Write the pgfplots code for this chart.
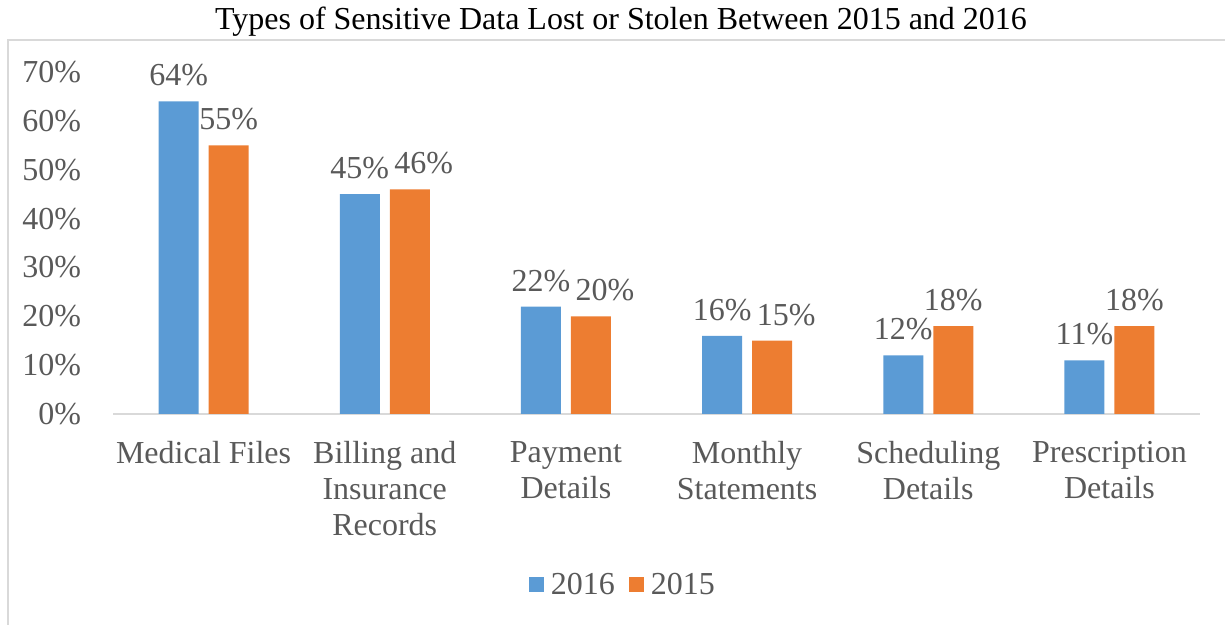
\documentclass[border=0pt]{standalone}
\usepackage{pgfplots}
\pgfplotsset{compat=1.18}
\usepackage{fontspec}
\setmainfont{Liberation Serif}
\definecolor{cblue}{HTML}{5B9BD5}
\definecolor{corange}{HTML}{ED7D31}
\definecolor{tgray}{HTML}{595959}
\definecolor{lgray}{HTML}{D9D9D9}
\begin{document}
\begin{tikzpicture}
\useasboundingbox (0,0) rectangle (612.5pt,312.5pt);
\draw[lgray, line width=1pt] (4pt,0) -- (4pt,292.5pt) -- (612.5pt,292.5pt);
\node[font=\fontsize{16}{19}\selectfont, black] at (310.5pt,301.5pt) {Types of Sensitive Data Lost or Stolen Between 2015 and 2016};
\begin{axis}[
  at={(56.5pt,105.5pt)}, anchor=south west,
  scale only axis, width=543.5pt, height=171pt,
  ybar=5pt, bar width=20pt,
  xmin=-0.5, xmax=5.5, ymin=0, ymax=70,
  xtick={0,1,2,3,4,5},
  xticklabels={Medical Files, Billing and\\Insurance\\Records, Payment\\Details, Monthly\\Statements, Scheduling\\Details, Prescription\\Details},
  ytick={0,10,20,30,40,50,60,70},
  yticklabel={\pgfmathprintnumber{\tick}\%},
  /pgf/number format/assume math mode=true,
  tick style={draw=none},
  axis y line*=left,
  y axis line style={draw=none},
  axis x line*=bottom,
  x axis line style={lgray, line width=1pt, -},
  ticklabel style={font=\fontsize{16}{18}\selectfont, text=tgray},
  xticklabel style={align=center, yshift=-6pt},
  yticklabel style={xshift=-12.5pt},
  nodes near coords={\pgfmathprintnumber{\pgfplotspointmeta}\%},
  nodes near coords style={font=\fontsize{16}{18}\selectfont, text=tgray, /pgf/number format/assume math mode=true, yshift=4pt},
  legend style={at={(0.4664,-0.5)}, xshift=2pt, anchor=center, draw=none, legend columns=2, font=\fontsize{16}{18}\selectfont, text=tgray, /tikz/every even column/.append style={column sep=5pt}},
  legend image code/.code={\fill[#1] (0pt,-3.75pt) rectangle (7.5pt,3.75pt); \path (9pt,0pt);},
]
\addplot[fill=cblue, draw=none] coordinates {(0,64) (1,45) (2,22) (3,16) (4,12) (5,11)};
\addplot[fill=corange, draw=none, coordinate style/.condition={x>0.5 && x<3.5}{xshift=7pt}] coordinates {(0,55) (1,46) (2,20) (3,15) (4,18) (5,18)};
\legend{2016,2015}
\end{axis}
\end{tikzpicture}
\end{document}
